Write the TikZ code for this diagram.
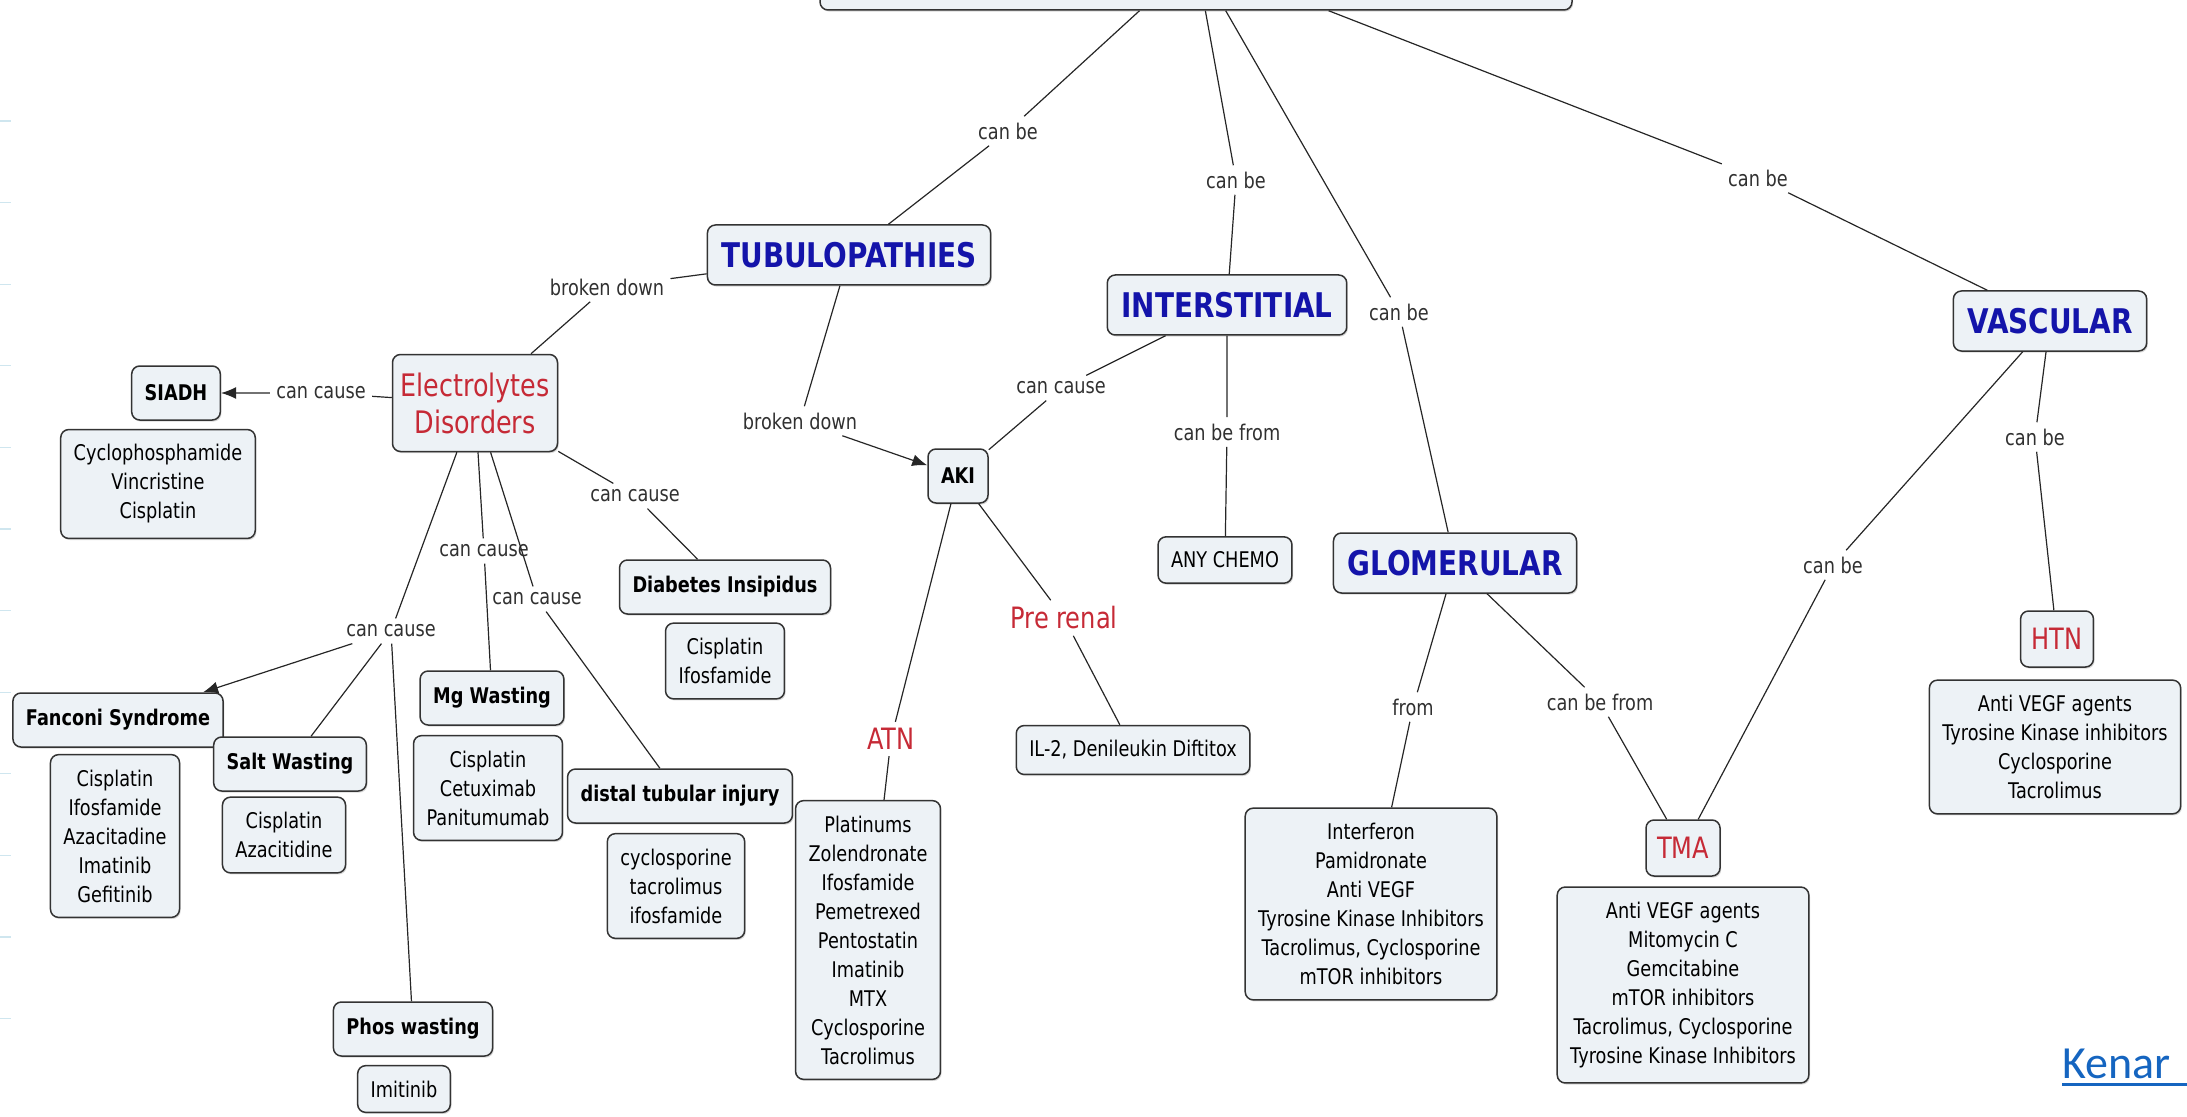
\documentclass[tikz,border=0pt]{standalone}
\usepackage{fontspec}
\setmainfont{DejaVu Sans}[FakeStretch=0.82]
\newfontfamily\kenarfont{Carlito}
\usetikzlibrary{arrows.meta,shadows}
\definecolor{boxfill}{HTML}{EDF2F6}
\definecolor{boxline}{HTML}{333333}
\definecolor{headblue}{HTML}{1414AA}
\definecolor{mapred}{HTML}{C62A36}
\definecolor{linktext}{HTML}{303030}
\definecolor{kenarblue}{HTML}{1565C0}
\definecolor{tickblue}{HTML}{CFE6EF}

\begin{document}
\begin{tikzpicture}[x=0.5pt,y=-0.5pt,>={Latex[length=7.5pt,width=6pt]},
  listbox/.style={draw=boxline,line width=0.75pt,fill=boxfill,rounded corners=4pt,
    drop shadow={shadow xshift=0.6pt,shadow yshift=-0.8pt,opacity=0.3},
    inner xsep=6.5pt,inner ysep=7.5pt,align=center,
    font=\fontsize{10.8}{14.5}\selectfont},
  headbox/.style={listbox,font=\fontsize{17}{20}\selectfont\bfseries,text=headblue,
    minimum height=30pt,inner xsep=7pt,inner ysep=0pt},
  itembox/.style={listbox,font=\fontsize{10.8}{14.5}\selectfont\bfseries,
    minimum height=27pt,inner ysep=0pt},
  redbox/.style={listbox,font=\fontsize{14.7}{18}\selectfont,text=mapred,
    minimum height=28pt,inner xsep=5.5pt,inner ysep=0pt},
  redword/.style={font=\fontsize{14.7}{18}\selectfont,text=mapred,inner sep=3pt},
  linkword/.style={font=\fontsize{10.8}{14.5}\selectfont,text=linktext,inner sep=3pt},
  conn/.style={line width=0.6pt,black!85}]
\path[use as bounding box] (0,0) rectangle (2187,1117);
\clip (0,0) rectangle (2187,1117);

% slide edge marks
\foreach \k in {0,...,11}
  \draw[tickblue,line width=0.6pt] (0,{121+81.6*\k})--(11,{121+81.6*\k});

% top concept, cut off by the page
\node (top) at (1196,-41) [listbox,minimum width=376pt,minimum height=51pt] {};

% main kinds
\node (tub) at (849,255) [headbox] {TUBULOPATHIES};
\node (inter) at (1227,305) [headbox] {INTERSTITIAL};
\node (glom) at (1455,563) [headbox] {GLOMERULAR};
\node (vasc) at (2050,321) [headbox] {VASCULAR};

\node (ed) at (475,403) [redbox,minimum width=82.5pt,minimum height=48.5pt,inner xsep=2pt,
  font=\fontsize{15.5}{18.5}\selectfont] {Electrolytes\\Disorders};
\node (aki) at (958,476) [itembox] {AKI};
\node (pre) at (1064,618) [redword] {Pre renal};
\node (atn) at (891,739) [redword] {ATN};
\node (htn) at (2057,639) [redbox] {HTN};
\node (tma) at (1683,848) [redbox] {TMA};

% syndromes
\node (siadh) at (176,393) [itembox] {SIADH};
\node (diab) at (725,587) [itembox] {Diabetes Insipidus};
\node (mg) at (492,698) [itembox] {Mg Wasting};
\node (distal) at (680,796) [itembox] {distal tubular injury};
\node (fanconi) at (118,720) [itembox] {Fanconi Syndrome};
\node (salt) at (290,764) [itembox] {Salt Wasting};
\node (phos) at (413,1029) [itembox] {Phos wasting};

% drug lists
\node (cyclo) at (158,484) [listbox] {Cyclophosphamide\\Vincristine\\Cisplatin};
\node (diablist) at (725,661) [listbox] {Cisplatin\\Ifosfamide};
\node (mglist) at (488,788) [listbox] {Cisplatin\\Cetuximab\\Panitumumab};
\node (distlist) at (676,886) [listbox] {cyclosporine\\tacrolimus\\ifosfamide};
\node (fanlist) at (115,836) [listbox] {Cisplatin\\Ifosfamide\\Azacitadine\\Imatinib\\Gefitinib};
\node (saltlist) at (284,835) [listbox] {Cisplatin\\Azacitidine};
\node (imit) at (404,1089) [listbox] {Imitinib};
\node (atnlist) at (868,940) [listbox] {Platinums\\Zolendronate\\Ifosfamide\\Pemetrexed\\Pentostatin\\Imatinib\\MTX\\Cyclosporine\\Tacrolimus};
\node (chemo) at (1225,560) [listbox] {ANY CHEMO};
\node (il2) at (1133,750) [listbox] {IL-2, Denileukin Diftitox};
\node (interf) at (1371,904) [listbox] {Interferon\\Pamidronate\\Anti VEGF\\Tyrosine Kinase Inhibitors\\Tacrolimus, Cyclosporine\\mTOR inhibitors};
\node (tmalist) at (1683,985) [listbox] {Anti VEGF agents\\Mitomycin C\\Gemcitabine\\mTOR inhibitors\\Tacrolimus, Cyclosporine\\Tyrosine Kinase Inhibitors};
\node (htnlist) at (2055,747) [listbox] {Anti VEGF agents\\Tyrosine Kinase inhibitors\\Cyclosporine\\Tacrolimus};

% linking words
\node (lb1) at (1008,131) [linkword] {can be};
\node (lb2) at (1236,180) [linkword] {can be};
\node (lb3) at (1399,312) [linkword] {can be};
\node (lb4) at (1758,178) [linkword] {can be};
\node (lb5) at (607,287) [linkword] {broken down};
\node (lb6) at (800,421) [linkword] {broken down};
\node (lb7) at (321,393) [linkword] {can cause};
\node (lb8) at (635,496) [linkword] {can cause};
\node (lb9) at (484,551) [linkword] {can cause};
\node (lb10) at (537,599) [linkword] {can cause};
\node (lb11) at (391,631) [linkword] {can cause};
\node (lb12) at (1061,388) [linkword] {can cause};
\node (lb13) at (1227,432) [linkword] {can be from};
\node (lb14) at (1413,707) [linkword] {from};
\node (lb15) at (1600,702) [linkword] {can be from};
\node (lb16) at (1833,565) [linkword] {can be};
\node (lb17) at (2035,437) [linkword] {can be};

\draw[conn] (top)--(lb1)--(tub);
\draw[conn] (top)--(lb2)--(inter);
\draw[conn] (top)--(lb3)--(glom);
\draw[conn] (top)--(lb4)--(vasc);
\draw[conn] (tub)--(lb5)--(ed);
\draw[conn,->] (tub)--(lb6)--(aki);
\draw[conn,->] (ed)--(lb7)--(siadh);
\draw[conn] (ed)--(lb8)--(diab);
\draw[conn] (ed)--(lb9)--(mg);
\draw[conn] (ed)--(lb10)--(distal);
\draw[conn] (ed)--(lb11);
\draw[conn,->] (lb11)--(fanconi);
\draw[conn] (lb11)--(salt);
\draw[conn] (lb11)--(phos);
\draw[conn] (inter)--(lb12)--(aki);
\draw[conn] (inter)--(lb13)--(chemo);
\draw[conn] (aki)--(atn)--(atnlist);
\draw[conn] (aki)--(pre)--(il2);
\draw[conn] (glom)--(lb14)--(interf);
\draw[conn] (glom)--(lb15)--(tma);
\draw[conn] (vasc)--(lb16)--(tma);
\draw[conn] (vasc)--(lb17)--(htn);

\node (kenar) at (2062,1078) [anchor=base west,inner sep=0pt,text=kenarblue,
  font=\kenarfont\fontsize{23}{26}\selectfont] {Kenar};
\draw[kenarblue,line width=1.5pt] ([yshift=-3pt]kenar.base west)--++(130,0);
\end{tikzpicture}
\end{document}
